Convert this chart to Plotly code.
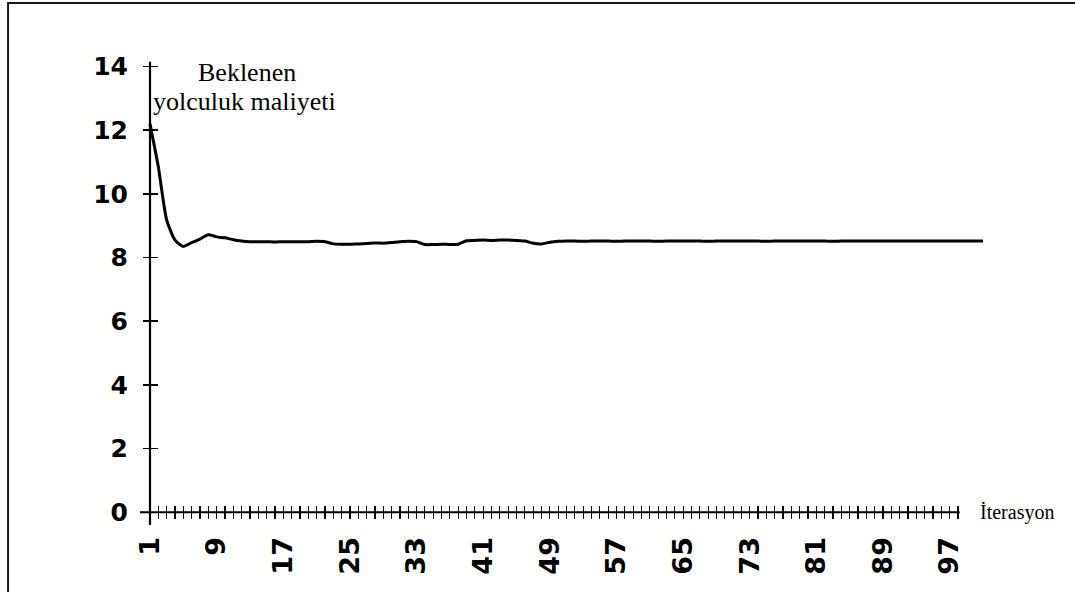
import plotly.graph_objects as go

# ---- data ----
iterasyon = list(range(1, 102))
maliyet = [
    12.2, 10.85, 9.18, 8.55, 8.35, 8.47, 8.58, 8.72, 8.65, 8.62, 8.56, 8.52, 8.50,
    8.50, 8.50, 8.49, 8.50, 8.50, 8.50, 8.50, 8.51, 8.50,
    8.43, 8.42, 8.42, 8.43, 8.44, 8.46, 8.45, 8.47,
    8.50, 8.51, 8.50,
    8.41, 8.41, 8.42, 8.41, 8.42,
    8.53, 8.54, 8.55, 8.54, 8.55, 8.55, 8.54, 8.52,
    8.45, 8.43, 8.48,
    8.51, 8.52, 8.52, 8.51, 8.52, 8.52, 8.52, 8.51, 8.52, 8.52,
    8.52, 8.52, 8.51, 8.52, 8.52, 8.52, 8.52, 8.52, 8.51, 8.52,
    8.52, 8.52, 8.52, 8.52, 8.52, 8.51, 8.52, 8.52, 8.52, 8.52,
    8.52, 8.52, 8.52, 8.51, 8.52, 8.52, 8.52, 8.52, 8.52, 8.52,
    8.52, 8.52, 8.52, 8.52, 8.52, 8.52, 8.52, 8.52, 8.52, 8.52,
    8.52, 8.52,
]
x_tick_vals = list(range(1, 99))
x_label_vals = [1, 9, 17, 25, 33, 41, 49, 57, 65, 73, 81, 89, 97]
y_tick_vals = [0, 2, 4, 6, 8, 10, 12, 14]
y_title_lines = ["Beklenen", "yolculuk maliyeti"]
x_title = "İterasyon"

# ---- layout geometry ----
X_RANGE = [-0.2, 104.0]
Y_RANGE = [-0.4, 14.3]
x_axis_pos = (0 - Y_RANGE[0]) / (Y_RANGE[1] - Y_RANGE[0])
y_axis_pos = (1 - X_RANGE[0]) / (X_RANGE[1] - X_RANGE[0])

x_ticktext = [str(v) if v in x_label_vals else "" for v in x_tick_vals]

fig = go.Figure()
fig.add_trace(go.Scatter(
    x=iterasyon, y=maliyet, mode="lines", line_shape="spline",
    line=dict(color="black", width=3, smoothing=0.6), showlegend=False, hoverinfo="skip",
))
# invisible copy so the overlay axes (inner tick halves) are drawn
fig.add_trace(go.Scatter(
    x=iterasyon, y=maliyet, mode="lines", xaxis="x2", yaxis="y2",
    line=dict(color="rgba(0,0,0,0)", width=0), showlegend=False, hoverinfo="skip",
))

num_font = dict(family="DejaVu Sans, sans-serif", color="black", weight="bold")
serif = "Liberation Serif, Times New Roman, serif"

fig.update_layout(
    width=1075, height=592,
    margin=dict(l=140, r=67, t=57, b=67),
    paper_bgcolor="white", plot_bgcolor="white",
    xaxis=dict(
        range=X_RANGE, anchor="free", position=x_axis_pos,
        showline=False, showgrid=False, zeroline=False,
        tickmode="array", tickvals=x_tick_vals, ticktext=x_ticktext,
        ticks="outside", ticklen=6, tickwidth=1.2, tickcolor="black",
        tickangle=-90, tickfont=dict(size=27, **num_font),
        ticklabelstandoff=7,
    ),
    xaxis2=dict(
        range=X_RANGE, overlaying="x", matches="x", anchor="free", position=x_axis_pos,
        showline=False, showgrid=False, zeroline=False,
        tickmode="array", tickvals=x_tick_vals, showticklabels=False,
        ticks="inside", ticklen=6, tickwidth=1.2, tickcolor="black",
    ),
    yaxis=dict(
        range=Y_RANGE, anchor="free", position=y_axis_pos,
        showline=False, showgrid=False, zeroline=False,
        tickmode="array", tickvals=y_tick_vals,
        ticks="outside", ticklen=7, tickwidth=1.5, tickcolor="black",
        tickfont=dict(size=25, **num_font),
        ticklabelstandoff=10,
    ),
    yaxis2=dict(
        range=Y_RANGE, overlaying="y", matches="y", anchor="free", position=y_axis_pos,
        side="left",
        showline=False, showgrid=False, zeroline=False,
        tickmode="array", tickvals=y_tick_vals, showticklabels=False,
        ticks="inside", ticklen=7, tickwidth=1.5, tickcolor="black",
    ),
    shapes=[
        # axis lines
        dict(type="line", xref="x", yref="y", x0=X_RANGE[0], x1=98.2, y0=0, y1=0,
             line=dict(color="black", width=2.2)),
        dict(type="line", xref="x", yref="y", x0=1, x1=1, y0=Y_RANGE[0], y1=14.15,
             line=dict(color="black", width=2.2)),
        # outer frame (top and left edges visible)
        dict(type="rect", xref="paper", yref="paper", x0=-0.152, x1=1.3, y0=-0.3, y1=1.1154,
             line=dict(color="#1a1a1a", width=2), fillcolor="rgba(0,0,0,0)", layer="above"),
    ],
    annotations=[
        dict(text=y_title_lines[0], xref="paper", yref="paper",
             x=(247 - 140) / 868, y=(592 - 67 - 72) / 468, xanchor="center", yanchor="middle",
             showarrow=False, font=dict(family=serif, size=26, color="black")),
        dict(text=y_title_lines[1], xref="paper", yref="paper",
             x=(151 - 140) / 868, y=(592 - 67 - 101) / 468, xanchor="left", yanchor="middle",
             showarrow=False, font=dict(family=serif, size=26, color="black")),
        dict(text=x_title, xref="paper", yref="y", x=(978 - 140) / 868, y=0, xanchor="left",
             yanchor="middle", showarrow=False,
             font=dict(family=serif, size=20, color="black")),
    ],
)

fig.write_html(
    "out.html",
    config={"displayModeBar": False, "staticPlot": True},
    post_script="document.body.style.margin='0';document.body.style.overflow='hidden';",
)
